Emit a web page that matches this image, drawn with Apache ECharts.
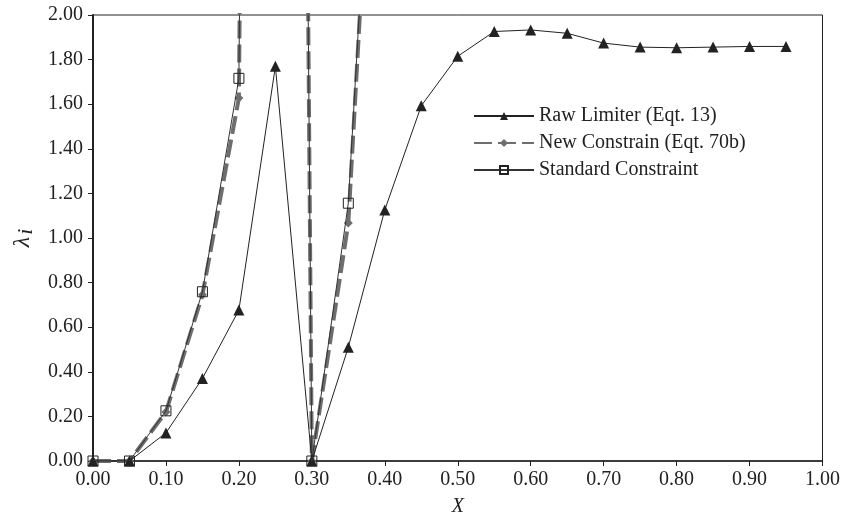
<!DOCTYPE html>
<html>
<head>
<meta charset="utf-8">
<script src="https://cdn.jsdelivr.net/npm/echarts@6/dist/echarts.min.js"></script>
<style>
  html, body { margin: 0; padding: 0; background: #fff; }
  #chart { width: 843px; height: 522px; }
</style>
</head>
<body>
<div id="chart"></div>
<script>
// Sample positions along X
const xRaw = [0.00, 0.05, 0.10, 0.15, 0.20, 0.25, 0.30, 0.35, 0.40, 0.45, 0.50, 0.55, 0.60, 0.65, 0.70, 0.75, 0.80, 0.85, 0.90, 0.95];
const rawLimiter = [0.00, 0.00, 0.126, 0.37, 0.677, 1.77, 0.00, 0.51, 1.126, 1.593, 1.815, 1.926, 1.933, 1.918, 1.874, 1.856, 1.853, 1.856, 1.859, 1.859];

const xConstr = [0.00, 0.05, 0.10, 0.15, 0.20, 0.25, 0.30, 0.35, 0.40];
const newConstrain = [0.00, 0.00, 0.22, 0.745, 1.628, 20.0, 0.00, 1.067, 4.02];
const standardConstraint = [0.00, 0.00, 0.225, 0.759, 1.716, 20.0, 0.00, 1.156, 4.00];

// Axis ticks
const xTicks = { min: 0, max: 1, step: 0.1 };
const yTicks = { min: 0, max: 2, step: 0.2 };

const seriesNames = ['Raw Limiter (Eqt. 13)', 'New Constrain (Eqt. 70b)', 'Standard Constraint'];

const pair = (xs, ys) => xs.map((x, i) => [x, ys[i]]);
const serif = "'Liberation Serif', 'Times New Roman', serif";

const chart = echarts.init(document.getElementById('chart'));
chart.setOption({
  animation: false,
  backgroundColor: '#fff',
  grid: {
    left: 93, right: 20, top: 15, bottom: 57,
    show: true, borderColor: '#222', borderWidth: 1
  },
  legend: {
    orient: 'vertical',
    left: 473, top: 106, padding: 0,
    itemWidth: 60, itemHeight: 10, itemGap: 7,
    textStyle: { fontFamily: serif, fontSize: 20, color: '#222' },
    data: seriesNames
  },
  xAxis: {
    type: 'value',
    min: xTicks.min, max: xTicks.max, interval: xTicks.step,
    name: 'X',
    nameLocation: 'middle', nameGap: 36,
    nameTextStyle: { fontFamily: serif, fontStyle: 'italic', fontSize: 20, color: '#222' },
    axisLine: { lineStyle: { color: '#222', width: 1.5 } },
    axisTick: { length: 5, lineStyle: { color: '#222' } },
    axisLabel: { fontFamily: serif, fontSize: 20, color: '#222', margin: 9,
      formatter: v => v.toFixed(2) },
    splitLine: { show: false }
  },
  yAxis: {
    type: 'value',
    min: yTicks.min, max: yTicks.max, interval: yTicks.step,
    name: '{a|λ}{b|i}',
    nameLocation: 'middle', nameGap: 56, nameRotate: 90,
    nameTextStyle: {
      rich: {
        a: { fontFamily: serif, fontStyle: 'italic', fontSize: 24, color: '#222' },
        b: { fontFamily: serif, fontStyle: 'italic', fontSize: 22, color: '#222', padding: [6, 0, 0, 2] }
      }
    },
    axisLine: { show: true, lineStyle: { color: '#222', width: 2 } },
    axisTick: { show: true, length: 5, lineStyle: { color: '#222' } },
    axisLabel: { fontFamily: serif, fontSize: 20, color: '#222', margin: 10,
      formatter: v => v.toFixed(2) },
    splitLine: { show: false }
  },
  series: [
    {
      name: seriesNames[0], type: 'line', clip: true,
      data: pair(xRaw, rawLimiter),
      symbol: 'triangle', symbolSize: 11,
      itemStyle: { color: '#222' },
      lineStyle: { color: '#222', width: 1 },
      z: 3
    },
    {
      name: seriesNames[1], type: 'line', clip: true,
      data: pair(xConstr, newConstrain),
      symbol: 'diamond', symbolSize: 9,
      itemStyle: { color: '#6e6e6e' },
      lineStyle: { color: '#6e6e6e', width: 4, type: [18, 6] },
      z: 2
    },
    {
      name: seriesNames[2], type: 'line', clip: true,
      data: pair(xConstr, standardConstraint),
      symbol: 'rect', symbolSize: 10,
      itemStyle: { color: 'rgba(255,255,255,0)', borderColor: '#222', borderWidth: 1 },
      lineStyle: { color: '#333', width: 1 },
      z: 4
    }
  ]
});
</script>
</body>
</html>
